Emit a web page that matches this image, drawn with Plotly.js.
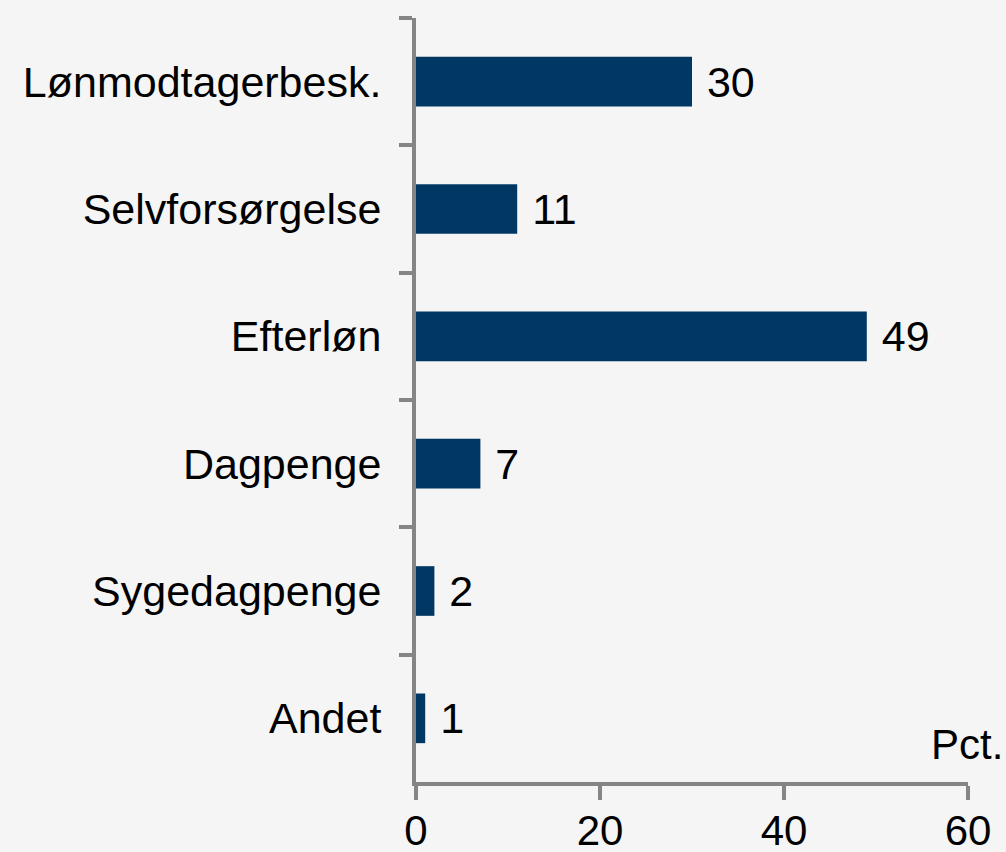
<!DOCTYPE html>
<html>
<head>
<meta charset="utf-8">
<script src="https://cdn.plot.ly/plotly-3.0.1.min.js"></script>
<style>
  html, body { margin: 0; padding: 0; background: #f5f5f5; }
  #chart { width: 1006px; height: 852px; }
</style>
</head>
<body>
<div id="chart"></div>
<script>
const categories = ["Lønmodtagerbesk.", "Selvforsørgelse", "Efterløn", "Dagpenge", "Sygedagpenge", "Andet"];
const values = [30, 11, 49, 7, 2, 1];
const xTickValues = [0, 20, 40, 60];
const unitLabel = "Pct.";

const axisGrey = "#858585";
const barColor = "#003763";
const fontFamily = "Arial, 'Liberation Sans', sans-serif";

const trace = {
  type: "bar",
  orientation: "h",
  y: categories,
  x: values,
  width: 0.39,
  marker: { color: barColor, line: { width: 0 } },
  texttemplate: "\u00a0%{x}",
  textposition: "outside",
  cliponaxis: false,
  textfont: { family: fontFamily, size: 43, color: "#000000" },
  hoverinfo: "none"
};

const layout = {
  width: 1006,
  height: 852,
  margin: { l: 416, r: 38, t: 18, b: 70 },
  paper_bgcolor: "#f5f5f5",
  plot_bgcolor: "#f5f5f5",
  showlegend: false,
  font: { family: fontFamily, size: 43, color: "#000000" },
  xaxis: {
    range: [0, 60],
    tickvals: xTickValues,
    ticktext: xTickValues.map(String),
    showgrid: false,
    zeroline: false,
    showline: true,
    linecolor: axisGrey,
    linewidth: 4,
    ticks: "outside",
    ticklen: 14,
    tickwidth: 4,
    tickcolor: axisGrey,
    tickfont: { family: fontFamily, size: 42, color: "#000000" },
    ticklabelstandoff: -5,
    fixedrange: true
  },
  yaxis: {
    type: "category",
    categoryorder: "array",
    categoryarray: categories,
    autorange: "reversed",
    showgrid: false,
    zeroline: false,
    showline: true,
    linecolor: axisGrey,
    linewidth: 4,
    ticks: "outside",
    tickson: "boundaries",
    ticklen: 13,
    tickwidth: 4,
    tickcolor: axisGrey,
    tickfont: { family: fontFamily, size: 43, color: "#000000" },
    ticklabelstandoff: 22,
    fixedrange: true
  },
  annotations: [{
    text: unitLabel,
    xref: "paper", yref: "paper",
    x: 1, y: 0,
    xanchor: "right", yanchor: "bottom",
    xshift: 37, yshift: 12,
    showarrow: false,
    font: { family: fontFamily, size: 42, color: "#000000" }
  }]
};

Plotly.newPlot("chart", [trace], layout, { displayModeBar: false, staticPlot: true });
</script>
</body>
</html>
